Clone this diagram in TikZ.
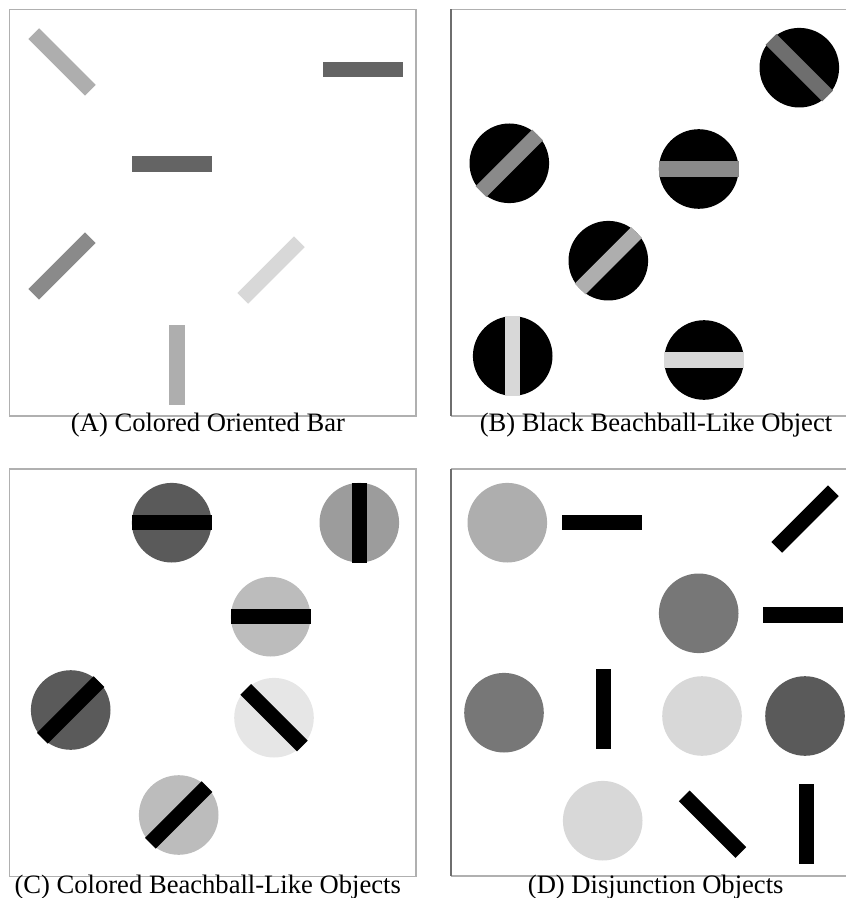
\documentclass[tikz,border=0pt]{standalone}
\usepackage{fontspec}
\setmainfont{Liberation Serif}
\definecolor{g90}{RGB}{90,90,90}
\definecolor{g100}{RGB}{100,100,100}
\definecolor{g110}{RGB}{110,110,110}
\definecolor{g119}{RGB}{119,119,119}
\definecolor{g138}{RGB}{138,138,138}
\definecolor{g156}{RGB}{156,156,156}
\definecolor{g174}{RGB}{174,174,174}
\definecolor{g188}{RGB}{188,188,188}
\definecolor{g216}{RGB}{216,216,216}
\definecolor{g230}{RGB}{230,230,230}
\definecolor{lineLight}{RGB}{176,176,176}
\definecolor{lineDark}{RGB}{110,110,110}

\begin{document}
\begin{tikzpicture}
    [x=0.5pt, y=-0.5pt,
    frame/.style={line width=0.6pt, draw=lineLight},
    bar/.style={rectangle, inner sep=0pt, minimum width=40pt, minimum height=7.6pt},
    ball/.style={circle, inner sep=0pt, minimum size=39.8pt},
    caption/.style={anchor=base, inner sep=0pt, font=\fontsize{13.3}{16}\selectfont}]
    \useasboundingbox (0,0) rectangle (846,898);

        %% Panel A: coloured bars
    \draw[frame] (9.5,9.5) rectangle (416,416);
    \node[bar, fill=g174, rotate=-45] (A1) at (62,62) {};
    \node[bar, fill=g100] (A2) at (363,69.5) {};
    \node[bar, fill=g100] (A3) at (172,164) {};
    \node[bar, fill=g138, rotate=45] (A4) at (62,266) {};
    \node[bar, fill=g216, rotate=45] (A5) at (271,270) {};
    \node[bar, fill=g174, rotate=90] (A6) at (177,365) {};
    \node[caption] (capA) at (208,431.7) {(A) Colored Oriented Bar};

        %% Panel B: black balls, coloured bars
    \draw[frame] (846,9.5) -- (451,9.5);
    \draw[frame] (451,416) -- (846,416);
    \draw[frame, draw=lineDark] (451,9.5) -- (451,416);
    \node[ball, fill=black] (B1) at (799.3,67.7) {};
    \node[bar, fill=g110, rotate=-45] (B1bar) at (B1) {};
    \node[ball, fill=black] (B2) at (509.3,163.3) {};
    \node[bar, fill=g138, rotate=45] (B2bar) at (B2) {};
    \node[ball, fill=black] (B3) at (698.7,169) {};
    \node[bar, fill=g138] (B3bar) at (B3) {};
    \node[ball, fill=black] (B4) at (608.3,260.7) {};
    \node[bar, fill=g174, rotate=45] (B4bar) at (B4) {};
    \node[ball, fill=black] (B5) at (512.7,356) {};
    \node[bar, fill=g216, rotate=90] (B5bar) at (B5) {};
    \node[ball, fill=black] (B6) at (704,360) {};
    \node[bar, fill=g216] (B6bar) at (B6) {};
    \node[caption] (capB) at (656,431.7) {(B) Black Beachball-Like Object};

        %% Panel C: coloured balls, black bars
    \draw[frame] (9.5,469) rectangle (416,876.5);
    \node[ball, fill=g90] (C1) at (171.7,522.7) {};
    \node[bar, fill=black] (C1bar) at (C1) {};
    \node[ball, fill=g156] (C2) at (359.3,522.7) {};
    \node[bar, fill=black, rotate=90] (C2bar) at (C2) {};
    \node[ball, fill=g188] (C3) at (270.7,616.7) {};
    \node[bar, fill=black] (C3bar) at (C3) {};
    \node[ball, fill=g90] (C4) at (70.7,710) {};
    \node[bar, fill=black, rotate=45] (C4bar) at (C4) {};
    \node[ball, fill=g230] (C5) at (274,717.7) {};
    \node[bar, fill=black, rotate=-45] (C5bar) at (C5) {};
    \node[ball, fill=g188] (C6) at (178.7,815) {};
    \node[bar, fill=black, rotate=45] (C6bar) at (C6) {};
    \node[caption] (capC) at (207.7,893.5) {(C) Colored Beachball-Like Objects};

        %% Panel D: balls and bars apart
    \draw[frame] (846,469) -- (451,469);
    \draw[frame] (451,876) -- (846,876);
    \draw[frame, draw=lineDark] (451,469) -- (451,876);
    \node[ball, fill=g174] (D1) at (507.3,522.7) {};
    \node[bar, fill=black] (D2) at (601.5,522.8) {};
    \node[bar, fill=black, rotate=45] (D3) at (805,519) {};
    \node[ball, fill=g119] (D4) at (698.7,613.3) {};
    \node[bar, fill=black] (D5) at (803,615) {};
    \node[ball, fill=g119] (D6) at (504,712.7) {};
    \node[bar, fill=black, rotate=90] (D7) at (603.2,708.8) {};
    \node[ball, fill=g216] (D8) at (702,716) {};
    \node[ball, fill=g90] (D9) at (805,716) {};
    \node[ball, fill=g216] (D10) at (602.7,820.7) {};
    \node[bar, fill=black, rotate=-45] (D11) at (712.5,824.2) {};
    \node[bar, fill=black, rotate=90] (D12) at (806.7,823.8) {};
    \node[caption] (capD) at (655.7,893.5) {(D) Disjunction Objects};
\end{tikzpicture}
\end{document}
